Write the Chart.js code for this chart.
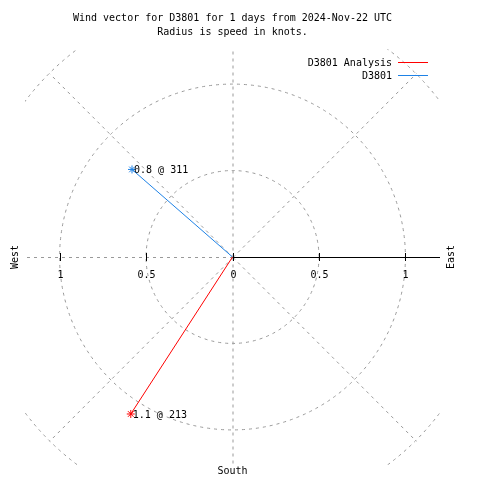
<!DOCTYPE html>
<html>
<head>
<meta charset="utf-8">
<script src="https://cdn.jsdelivr.net/npm/chart.js@4/dist/chart.umd.min.js"></script>
<style>
  html, body { margin: 0; padding: 0; background: #fff; }
  #wrap { width: 480px; height: 480px; }
</style>
</head>
<body>
<div id="wrap"><canvas id="windChart" width="480" height="480"></canvas></div>
<script>
// wind vectors: speed in knots, direction in degrees (from north, clockwise)
var seriesNames = ['D3801 Analysis', 'D3801'];
var speeds = [1.08, 0.77];
var directions = [213, 311];

// axis ticks along the east-west line
var tickValues = [-1, -0.5, 0, 0.5, 1];
var tickLabels = ['1', '0.5', '0', '0.5', '1'];

// polar grid
var gridRadii = [0.5, 1, 1.5];
var gridAngles = [0, 45, 90, 135, 180, 225, 270, 315];

var titleLines = ['Wind vector for D3801 for 1 days from 2024-Nov-22 UTC', 'Radius is speed in knots.'];

var FONT = '10px "DejaVu Sans Mono", "Liberation Mono", monospace';
var seriesColors = ['#ff0000', '#1e82e6'];

function toXY(speed, dir) {
    var a = dir * Math.PI / 180;
    return { x: speed * Math.sin(a), y: speed * Math.cos(a) };
}

var datasets = seriesNames.map(function (name, i) {
    return {
        label: name,
        data: [{ x: 0, y: 0 }, toXY(speeds[i], directions[i])],
        showLine: true,
        borderColor: seriesColors[i],
        backgroundColor: seriesColors[i],
        borderWidth: 1,
        pointStyle: 'star',
        pointRadius: [0, 4],
        pointBorderWidth: 1,
        pointBorderColor: seriesColors[i]
    };
});

var polarGrid = {
    id: 'polarGrid',
    beforeDatasetsDraw: function (chart) {
        var ctx = chart.ctx, xs = chart.scales.x, ys = chart.scales.y, area = chart.chartArea;
        var cx = xs.getPixelForValue(0), cy = ys.getPixelForValue(0);
        var unit = xs.getPixelForValue(1) - cx;
        ctx.save();
        ctx.beginPath();
        ctx.rect(area.left, area.top, area.right - area.left, area.bottom - area.top);
        ctx.clip();
        ctx.strokeStyle = '#999999';
        ctx.lineWidth = 1;
        ctx.setLineDash([3, 4]);
        gridRadii.forEach(function (r) {
            ctx.beginPath();
            ctx.arc(cx, cy, r * unit, 0, Math.PI * 2);
            ctx.stroke();
        });
        var rmax = gridRadii[gridRadii.length - 1];
        gridAngles.forEach(function (deg) {
            if (deg === 90) return; // east is drawn as the solid axis
            var p = toXY(rmax, deg);
            ctx.beginPath();
            ctx.moveTo(cx + 0.5, cy + 0.5);
            ctx.lineTo(xs.getPixelForValue(p.x) + 0.5, ys.getPixelForValue(p.y) + 0.5);
            ctx.stroke();
        });
        ctx.restore();

        // solid axis to the east with ticks
        ctx.save();
        ctx.strokeStyle = '#000';
        ctx.lineWidth = 1;
        ctx.beginPath();
        ctx.moveTo(cx, Math.round(cy) + 0.5);
        ctx.lineTo(area.right, Math.round(cy) + 0.5);
        ctx.stroke();
        ctx.font = FONT;
        ctx.fillStyle = '#000';
        ctx.textAlign = 'center';
        ctx.textBaseline = 'middle';
        tickValues.forEach(function (v, i) {
            var px = Math.round(xs.getPixelForValue(v)) + 0.5;
            ctx.beginPath();
            ctx.moveTo(px, cy - 4);
            ctx.lineTo(px, cy + 4);
            ctx.stroke();
            ctx.fillText(tickLabels[i], px, cy + 18);
        });
        ctx.restore();
    },
    afterDatasetsDraw: function (chart) {
        var ctx = chart.ctx, xs = chart.scales.x, ys = chart.scales.y, area = chart.chartArea;
        var cx = xs.getPixelForValue(0), cy = ys.getPixelForValue(0);
        ctx.save();
        ctx.font = FONT;
        ctx.fillStyle = '#000';

        // labels at vector tips
        ctx.textAlign = 'left';
        ctx.textBaseline = 'middle';
        seriesNames.forEach(function (name, i) {
            var p = toXY(speeds[i], directions[i]);
            ctx.fillText(speeds[i].toFixed(1) + ' @ ' + directions[i],
                xs.getPixelForValue(p.x) + 2, ys.getPixelForValue(p.y) + 1);
        });

        // title
        ctx.textAlign = 'center';
        titleLines.forEach(function (t, i) {
            ctx.fillText(t, cx, 18 + i * 14);
        });

        // compass labels
        ctx.fillText('South', cx, 471);
        ctx.save();
        ctx.translate(15, cy);
        ctx.rotate(-Math.PI / 2);
        ctx.fillText('West', 0, 0);
        ctx.restore();
        ctx.save();
        ctx.translate(451, cy);
        ctx.rotate(-Math.PI / 2);
        ctx.fillText('East', 0, 0);
        ctx.restore();

        // legend
        ctx.textAlign = 'right';
        seriesNames.forEach(function (name, i) {
            var y = 63 + i * 13;
            ctx.fillStyle = '#000';
            ctx.fillText(name, 392, y);
            ctx.strokeStyle = seriesColors[i];
            ctx.lineWidth = 1;
            ctx.beginPath();
            ctx.moveTo(398, Math.round(y) - 0.5);
            ctx.lineTo(428, Math.round(y) - 0.5);
            ctx.stroke();
        });
        ctx.restore();
    }
};

var ctx = document.getElementById('windChart').getContext('2d');
var windChart = new Chart(ctx, {
    type: 'scatter',
    data: { datasets: datasets },
    options: {
        responsive: false,
        animation: false,
        layout: { padding: { left: 25, right: 40, top: 49, bottom: 15 } },
        scales: {
            x: { type: 'linear', min: -1.2, max: 1.2, display: false },
            y: { type: 'linear', min: -1.2, max: 1.2, display: false }
        },
        plugins: {
            legend: { display: false },
            tooltip: { enabled: false }
        }
    },
    plugins: [polarGrid]
});
</script>
</body>
</html>
